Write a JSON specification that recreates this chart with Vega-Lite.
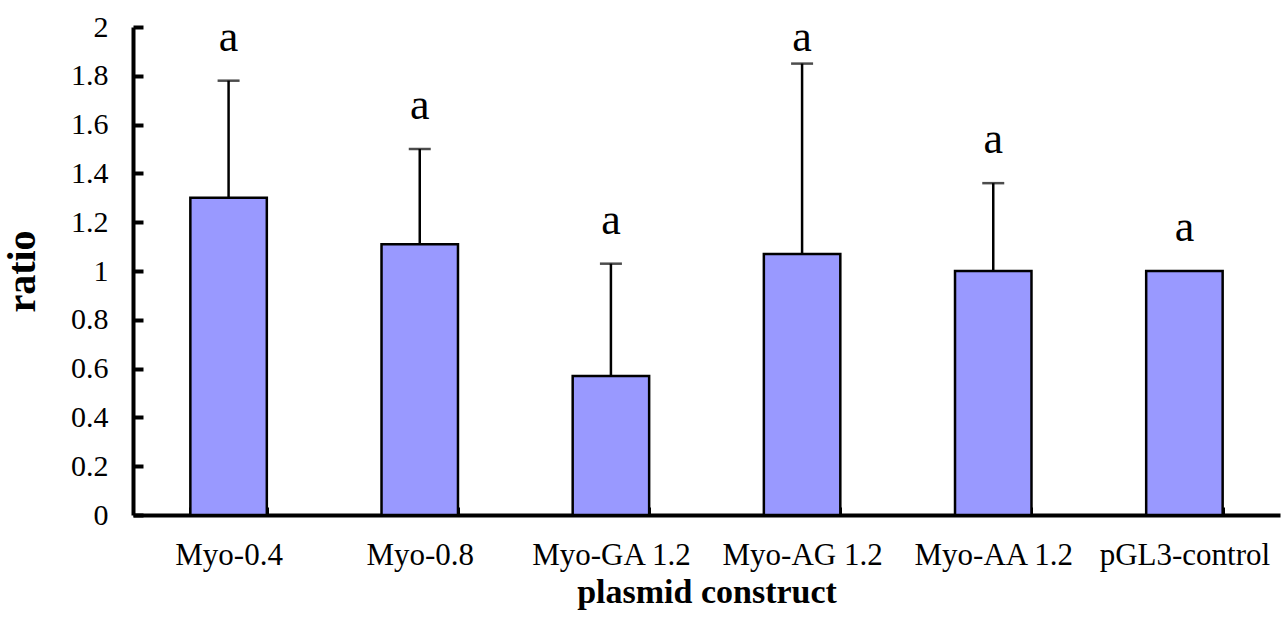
{
  "$schema": "https://vega.github.io/schema/vega-lite/v6.json",
  "width": 1147,
  "height": 488,
  "autosize": {"type": "none"},
  "padding": {"left": 133, "top": 27, "right": 1, "bottom": 121},
  "background": "white",
  "config": {
    "view": {"stroke": null},
    "font": "Liberation Serif"
  },
  "data": {
    "values": [
      {"construct": "Myo-0.4", "ratio": 1.30, "upper": 1.78, "sig": "a"},
      {"construct": "Myo-0.8", "ratio": 1.11, "upper": 1.50, "sig": "a"},
      {"construct": "Myo-GA 1.2", "ratio": 0.57, "upper": 1.03, "sig": "a"},
      {"construct": "Myo-AG 1.2", "ratio": 1.07, "upper": 1.85, "sig": "a"},
      {"construct": "Myo-AA 1.2", "ratio": 1.00, "upper": 1.36, "sig": "a"},
      {"construct": "pGL3-control", "ratio": 1.00, "upper": 1.00, "sig": "a"}
    ]
  },
  "encoding": {
    "x": {
      "field": "construct",
      "type": "nominal",
      "sort": null,
      "scale": {"paddingInner": 0.6, "paddingOuter": 0.3},
      "axis": {
        "title": "plasmid construct",
        "titleFont": "Liberation Serif",
        "titleFontSize": 34,
        "titleFontWeight": "bold",
        "titleColor": "black",
        "titlePadding": 5,
        "labelAngle": 0,
        "labelFont": "Liberation Serif",
        "labelFontSize": 31,
        "labelColor": "black",
        "labelPadding": 33,
        "domainColor": "black",
        "domainWidth": 4,
        "tickColor": "black",
        "tickWidth": 3,
        "tickSize": -8,
        "tickBand": "extent",
        "grid": false
      }
    }
  },
  "layer": [
    {
      "mark": {"type": "bar", "color": "#9999FF", "stroke": "black", "strokeWidth": 2.5},
      "encoding": {
        "y": {
          "field": "ratio",
          "type": "quantitative",
          "scale": {"domain": [0, 2], "nice": false},
          "axis": {
            "title": "ratio",
            "titleFont": "Liberation Serif",
            "titleFontSize": 40,
            "titleFontWeight": "bold",
            "titleColor": "black",
            "titlePadding": 28,
            "values": [0, 0.2, 0.4, 0.6, 0.8, 1, 1.2, 1.4, 1.6, 1.8, 2],
            "format": ".1~f",
            "labelFont": "Liberation Serif",
            "labelFontSize": 30,
            "labelColor": "black",
            "labelPadding": 35,
            "domainColor": "black",
            "domainWidth": 4,
            "tickColor": "black",
            "tickWidth": 4,
            "tickSize": -10,
            "grid": false
          }
        }
      }
    },
    {
      "transform": [{"filter": "datum.upper > datum.ratio"}],
      "mark": {"type": "rule", "color": "black", "strokeWidth": 2.5},
      "encoding": {
        "y": {"field": "ratio", "type": "quantitative"},
        "y2": {"field": "upper"}
      }
    },
    {
      "transform": [{"filter": "datum.upper > datum.ratio"}],
      "mark": {"type": "tick", "color": "black", "size": 22, "thickness": 2.5},
      "encoding": {
        "y": {"field": "upper", "type": "quantitative"}
      }
    },
    {
      "transform": [{"calculate": "min(datum.upper, 1.78)", "as": "labelY"}],
      "mark": {"type": "text", "font": "Liberation Serif", "fontSize": 44, "baseline": "alphabetic", "dy": -30, "color": "black"},
      "encoding": {
        "y": {"field": "labelY", "type": "quantitative"},
        "text": {"field": "sig"}
      }
    }
  ]
}
